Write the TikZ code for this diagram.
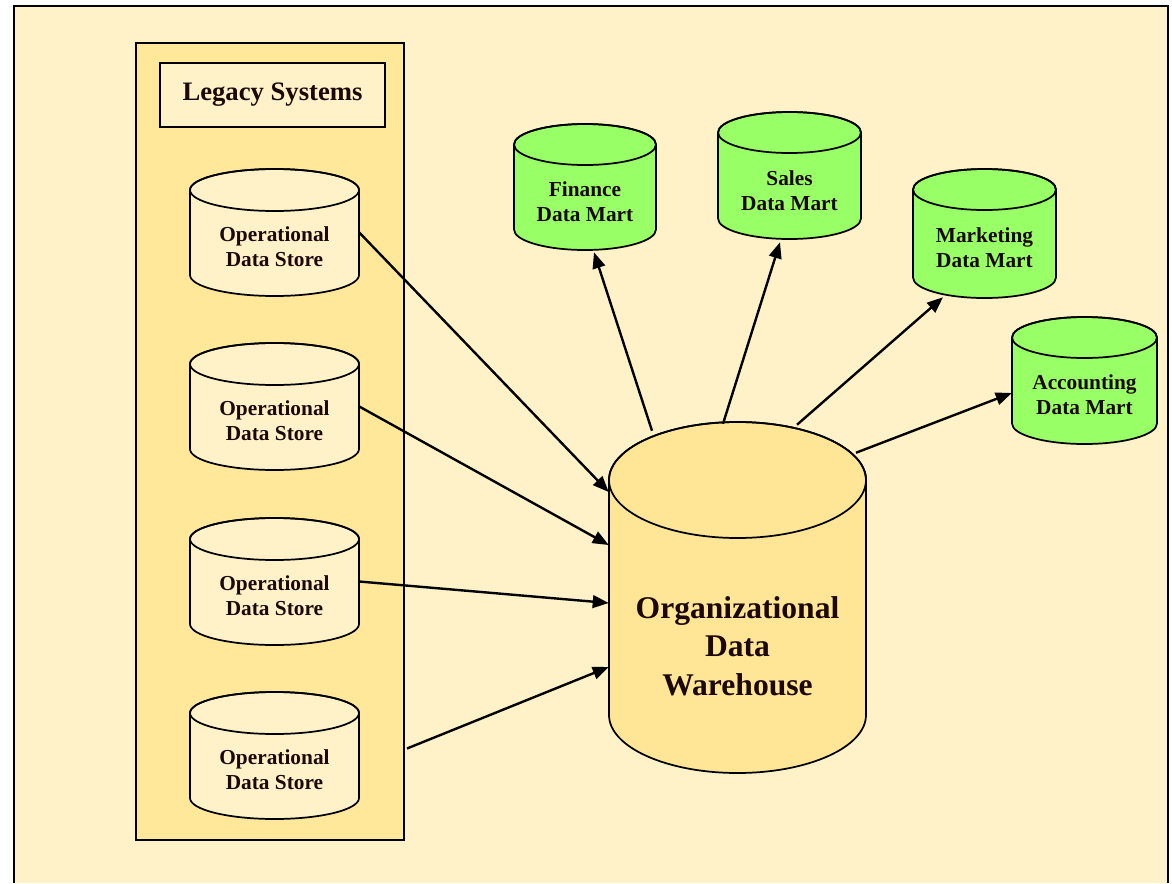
\documentclass[tikz,border=0pt]{standalone}
\usepackage{fontspec}
\setmainfont{Liberation Serif}
\usetikzlibrary{arrows.meta,calc}
\definecolor{bgc}{RGB}{255,242,200}
\definecolor{panelc}{RGB}{255,232,153}
\definecolor{whc}{RGB}{255,230,150}
\definecolor{martc}{RGB}{153,255,102}
\definecolor{txtc}{RGB}{28,8,8}
% #1 name, #2 cx, #3 top, #4 bottom, #5 rx, #6 ry, #7 style, #8 text y, #9 text
\newcommand\cylshape[9]{%
  \filldraw[cylline, #7] (#2-#5,#3+#6) -- (#2-#5,#4-#6)
     arc[start angle=180, end angle=360, x radius=#5*0.75pt, y radius=#6*0.75pt]
     -- (#2+#5,#3+#6)
     arc[start angle=0, end angle=180, x radius=#5*0.75pt, y radius=#6*0.75pt] -- cycle;
  \draw[cylline] (#2,#3+#6) ellipse[x radius=#5*0.75pt, y radius=#6*0.75pt];
  \node[inner sep=0pt, minimum width={2*#5*0.75pt}, minimum height={(#4-#3)*0.75pt}]
     (#1) at (#2,{(#3+#4)/2}) {};
  \node[cyltext, #7, fill=none, draw=none] (#1-t) at (#2,#8) {#9};
}
\begin{document}
\begin{tikzpicture}[x=0.75pt, y=-0.75pt,
  cylline/.style={line width=1.3pt, draw=black},
  cyltext/.style={align=center, text=txtc, inner sep=0pt,
     font=\bfseries\fontsize{16}{19}\selectfont},
  odsstyle/.style={fill=bgc},
  martstyle/.style={fill=martc},
  whstyle/.style={fill=whc, font=\bfseries\fontsize{23.7}{29}\selectfont},
  frame/.style={line width=1.5pt, draw=black},
  arr/.style={line width=1.8pt, -{Triangle[length=12pt,width=9.5pt]}}]
\useasboundingbox (0,0) rectangle (1172,883);
\fill[white] (0,0) rectangle (1172,883);
\fill[bgc] (14,6) rectangle (1168,883);
\draw[frame] (14,883) -- (14,6) -- (1168,6) -- (1168,883);

% legacy panel
\node[frame, fill=panelc, minimum width=268*0.75pt, minimum height=797*0.75pt, inner sep=0pt]
   (panel) at (270,441.5) {};
\node[frame, fill=bgc, minimum width=225*0.75pt, minimum height=64*0.75pt, inner sep=0pt,
   text=txtc, font=\bfseries\fontsize{20}{24}\selectfont]
   (legacy) at (272.5,95) {Legacy Systems};

% operational data stores
\cylshape{ods1}{274.5}{169}{296}{84.5}{21}{odsstyle}{247}{Operational\\Data Store}
\cylshape{ods2}{274.5}{343}{470}{84.5}{21}{odsstyle}{421}{Operational\\Data Store}
\cylshape{ods3}{274.5}{518}{645}{84.5}{21}{odsstyle}{596}{Operational\\Data Store}
\cylshape{ods4}{274.5}{692}{819}{84.5}{21}{odsstyle}{770}{Operational\\Data Store}

% data marts
\cylshape{fin}{585}{124}{250}{71}{20.5}{martstyle}{202}{Finance\\Data Mart}
\cylshape{sal}{789.5}{112}{239}{71.5}{20.5}{martstyle}{191}{Sales\\Data Mart}
\cylshape{mkt}{984.5}{169}{298}{71.5}{20.5}{martstyle}{248}{Marketing\\Data Mart}
\cylshape{acc}{1084.5}{317}{444}{72.5}{20.5}{martstyle}{395}{Accounting\\Data Mart}

% warehouse
\cylshape{wh}{737.5}{422}{773}{128.5}{58}{whstyle}{646}{Organizational\\Data\\Warehouse}

% inbound arrows
\draw[arr] (ods1.east) -- (wh.west |- 0,492);
\draw[arr] (ods2.east) -- (wh.west |- 0,545);
\draw[arr] (ods3.east) -- (wh.west |- 0,603);
\draw[arr] ($(ods4.east -| panel.east)+(2,-7)$) -- (wh.west |- 0,667);

% outbound arrows
\draw[arr] ($(wh.north)+(-85.5,9)$) -- ($(fin.south)+(9,2)$);
\draw[arr] ($(wh.north)+(-14.5,2)$) -- ($(sal.south)+(-9.5,3)$);
\draw[arr] ($(wh.north)+(59.5,3)$) -- ($(mkt.south)+(-41.5,-1)$);
\draw[arr] ($(wh.north)+(118.5,31)$) -- ($(acc.west)+(0,12.5)$);
\end{tikzpicture}
\end{document}
